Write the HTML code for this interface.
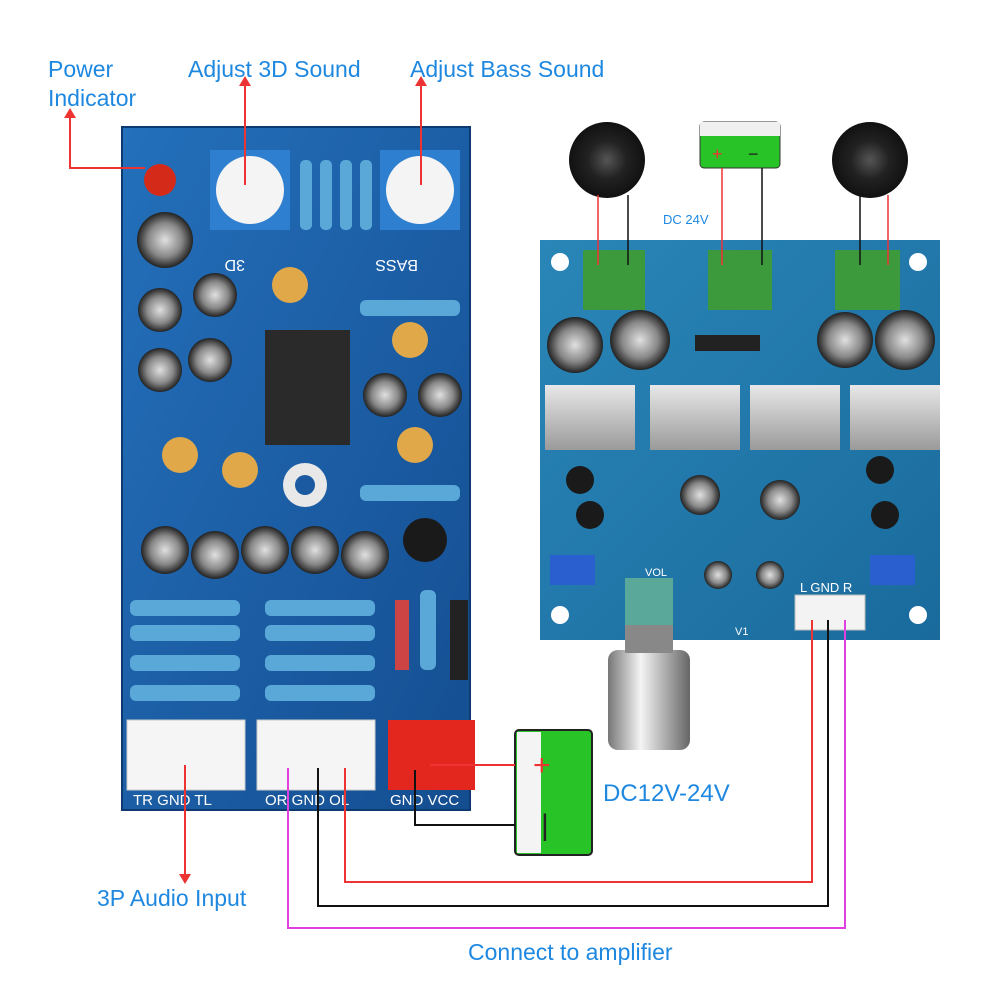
<!DOCTYPE html>
<html><head><meta charset="utf-8"><style>
html,body{margin:0;padding:0;background:#fff;}
svg{display:block;}
text{font-family:"Liberation Sans",sans-serif;}
</style></head><body>
<svg width="1000" height="1000" viewBox="0 0 1000 1000" xmlns="http://www.w3.org/2000/svg">
<defs>
<linearGradient id="bl" x1="0" y1="0" x2="1" y2="1"><stop offset="0" stop-color="#2470bb"/><stop offset="1" stop-color="#144d90"/></linearGradient>
<linearGradient id="br" x1="0" y1="0" x2="1" y2="1"><stop offset="0" stop-color="#2a86b8"/><stop offset="1" stop-color="#1a6a9c"/></linearGradient>
<linearGradient id="hs" x1="0" y1="0" x2="0" y2="1"><stop offset="0" stop-color="#e8e8e8"/><stop offset="1" stop-color="#9a9a9a"/></linearGradient>
<linearGradient id="knob" x1="0" y1="0" x2="1" y2="0"><stop offset="0" stop-color="#777"/><stop offset="0.4" stop-color="#f4f4f4"/><stop offset="1" stop-color="#666"/></linearGradient>
<radialGradient id="spk"><stop offset="0" stop-color="#555"/><stop offset="0.5" stop-color="#222"/><stop offset="1" stop-color="#111"/></radialGradient>
<radialGradient id="cap"><stop offset="0" stop-color="#e0e0e0"/><stop offset="0.6" stop-color="#888"/><stop offset="1" stop-color="#222"/></radialGradient>
</defs>

<rect x="122" y="127" width="348" height="683" fill="url(#bl)" stroke="#0d3a70" stroke-width="2"/>
<rect x="210" y="150" width="80" height="80" fill="#2f7fd0"/><circle cx="250" cy="190" r="34" fill="#f4f4f4"/>
<rect x="380" y="150" width="80" height="80" fill="#2f7fd0"/><circle cx="420" cy="190" r="34" fill="#f4f4f4"/>
<text x="245" y="272" fill="#fff" font-size="16" transform="rotate(180 245 266)">3D</text>
<text x="418" y="272" fill="#fff" font-size="16" transform="rotate(180 418 266)">BASS</text>
<circle cx="160" cy="180" r="16" fill="#d42a1a"/>
<g fill="#5aa8d8"><rect x="300" y="160" width="12" height="70" rx="5"/><rect x="320" y="160" width="12" height="70" rx="5"/><rect x="340" y="160" width="12" height="70" rx="5"/><rect x="360" y="160" width="12" height="70" rx="5"/></g>
<g fill="url(#cap)"><circle cx="165" cy="240" r="28"/><circle cx="160" cy="310" r="22"/><circle cx="215" cy="295" r="22"/><circle cx="160" cy="370" r="22"/><circle cx="210" cy="360" r="22"/><circle cx="385" cy="395" r="22"/><circle cx="440" cy="395" r="22"/><circle cx="165" cy="550" r="24"/><circle cx="215" cy="555" r="24"/><circle cx="265" cy="550" r="24"/><circle cx="315" cy="550" r="24"/><circle cx="365" cy="555" r="24"/></g>
<g fill="#e1a84a"><circle cx="290" cy="285" r="18"/><circle cx="410" cy="340" r="18"/><circle cx="180" cy="455" r="18"/><circle cx="240" cy="470" r="18"/><circle cx="415" cy="445" r="18"/></g>
<rect x="265" y="330" width="85" height="115" fill="#2a2a2a"/>
<circle cx="305" cy="485" r="22" fill="#e8e8e8"/><circle cx="305" cy="485" r="10" fill="#1b5aa0"/>
<circle cx="425" cy="540" r="22" fill="#1a1a1a"/>
<g fill="#5aa8d8"><rect x="130" y="600" width="110" height="16" rx="6"/><rect x="130" y="625" width="110" height="16" rx="6"/><rect x="130" y="655" width="110" height="16" rx="6"/><rect x="130" y="685" width="110" height="16" rx="6"/>
<rect x="265" y="600" width="110" height="16" rx="6"/><rect x="265" y="625" width="110" height="16" rx="6"/><rect x="265" y="655" width="110" height="16" rx="6"/><rect x="265" y="685" width="110" height="16" rx="6"/>
<rect x="360" y="300" width="100" height="16" rx="6"/><rect x="360" y="485" width="100" height="16" rx="6"/><rect x="420" y="590" width="16" height="80" rx="6"/></g>
<rect x="395" y="600" width="14" height="70" fill="#c44"/><rect x="450" y="600" width="18" height="80" fill="#222"/>
<rect x="127" y="720" width="118" height="70" fill="#f5f5f5" stroke="#ccc"/>
<rect x="257" y="720" width="118" height="70" fill="#f5f5f5" stroke="#ccc"/>
<rect x="388" y="720" width="87" height="70" fill="#e3261e"/>
<g fill="#fff" font-size="15"><text x="133" y="805">TR GND TL</text><text x="265" y="805">OR GND OL</text><text x="390" y="805">GND VCC</text></g>

<rect x="540" y="240" width="400" height="400" fill="url(#br)"/>
<g fill="#fff"><circle cx="560" cy="262" r="9"/><circle cx="918" cy="262" r="9"/><circle cx="560" cy="615" r="9"/><circle cx="918" cy="615" r="9"/></g>
<g fill="#3c9a3c"><rect x="583" y="250" width="62" height="60"/><rect x="708" y="250" width="64" height="60"/><rect x="835" y="250" width="65" height="60"/></g>
<g fill="url(#cap)"><circle cx="575" cy="345" r="28"/><circle cx="640" cy="340" r="30"/><circle cx="845" cy="340" r="28"/><circle cx="905" cy="340" r="30"/><circle cx="700" cy="495" r="20"/><circle cx="780" cy="500" r="20"/><circle cx="718" cy="575" r="14"/><circle cx="770" cy="575" r="14"/></g>
<rect x="695" y="335" width="65" height="16" fill="#222"/>
<g fill="url(#hs)"><rect x="545" y="385" width="90" height="65"/><rect x="650" y="385" width="90" height="65"/><rect x="750" y="385" width="90" height="65"/><rect x="850" y="385" width="90" height="65"/></g>
<g fill="#1a1a1a"><circle cx="580" cy="480" r="14"/><circle cx="590" cy="515" r="14"/><circle cx="880" cy="470" r="14"/><circle cx="885" cy="515" r="14"/></g>
<rect x="550" y="555" width="45" height="30" fill="#2a5fd0"/><rect x="870" y="555" width="45" height="30" fill="#2a5fd0"/>
<rect x="795" y="595" width="70" height="35" fill="#f3f3f3" stroke="#bbb"/>
<text x="800" y="592" fill="#fff" font-size="13">L GND R</text>
<text x="645" y="576" fill="#fff" font-size="11">VOL</text>
<text x="735" y="635" fill="#fff" font-size="11">V1</text>
<rect x="625" y="578" width="48" height="47" fill="#5aa89a"/>
<rect x="608" y="650" width="82" height="100" rx="10" fill="url(#knob)"/>
<rect x="625" y="625" width="48" height="28" fill="#888"/>

<circle cx="607" cy="160" r="38" fill="url(#spk)"/><circle cx="870" cy="160" r="38" fill="url(#spk)"/>
<rect x="700" y="122" width="80" height="46" rx="4" fill="#27c327" stroke="#333"/><rect x="700" y="122" width="80" height="14" fill="#f0f0f0"/>
<text x="712" y="160" fill="#e33" font-size="18">+</text><text x="748" y="160" fill="#222" font-size="18">−</text>
<text x="663" y="224" fill="#1e88e0" font-size="13">DC 24V</text>
<g fill="none" stroke-width="1.5"><line x1="598" y1="195" x2="598" y2="265" stroke="#e33"/><line x1="628" y1="195" x2="628" y2="265" stroke="#111"/>
<line x1="860" y1="195" x2="860" y2="265" stroke="#111"/><line x1="888" y1="195" x2="888" y2="265" stroke="#e33"/>
<line x1="722" y1="168" x2="722" y2="265" stroke="#e33"/><line x1="762" y1="168" x2="762" y2="265" stroke="#111"/></g>

<rect x="515" y="730" width="77" height="125" rx="4" fill="#27c327" stroke="#222" stroke-width="2"/>
<rect x="517" y="732" width="24" height="121" fill="#f4f4f4"/>
<text x="533" y="775" fill="#e33" font-size="30">+</text><text x="541" y="835" fill="#222" font-size="30">|</text>

<g fill="none" stroke-width="2">
<polyline points="70,115 70,168 145,168" stroke="#e33"/>
<line x1="245" y1="82" x2="245" y2="185" stroke="#e33"/>
<line x1="421" y1="82" x2="421" y2="185" stroke="#e33"/>
<line x1="185" y1="765" x2="185" y2="878" stroke="#e33"/>
<line x1="430" y1="765" x2="515" y2="765" stroke="#e33"/>
<polyline points="415,770 415,825 515,825" stroke="#111"/>
<polyline points="345,768 345,882 812,882 812,620" stroke="#e33"/>
<polyline points="318,768 318,906 828,906 828,620" stroke="#111"/>
<polyline points="288,768 288,928 845,928 845,620" stroke="#e040e0"/>
</g>
<g fill="#e33"><polygon points="64,118 76,118 70,108"/><polygon points="239,86 251,86 245,76"/><polygon points="415,86 427,86 421,76"/><polygon points="179,874 191,874 185,884"/></g>

<g fill="#1e88e0" font-size="23">
<text x="48" y="77">Power</text><text x="48" y="106">Indicator</text>
<text x="188" y="77">Adjust 3D Sound</text>
<text x="410" y="77">Adjust Bass Sound</text>
<text x="97" y="906">3P Audio Input</text>
<text x="468" y="960">Connect to amplifier</text>
</g>
<text x="603" y="801" fill="#1e88e0" font-size="24">DC12V-24V</text>
</svg>
</body></html>
